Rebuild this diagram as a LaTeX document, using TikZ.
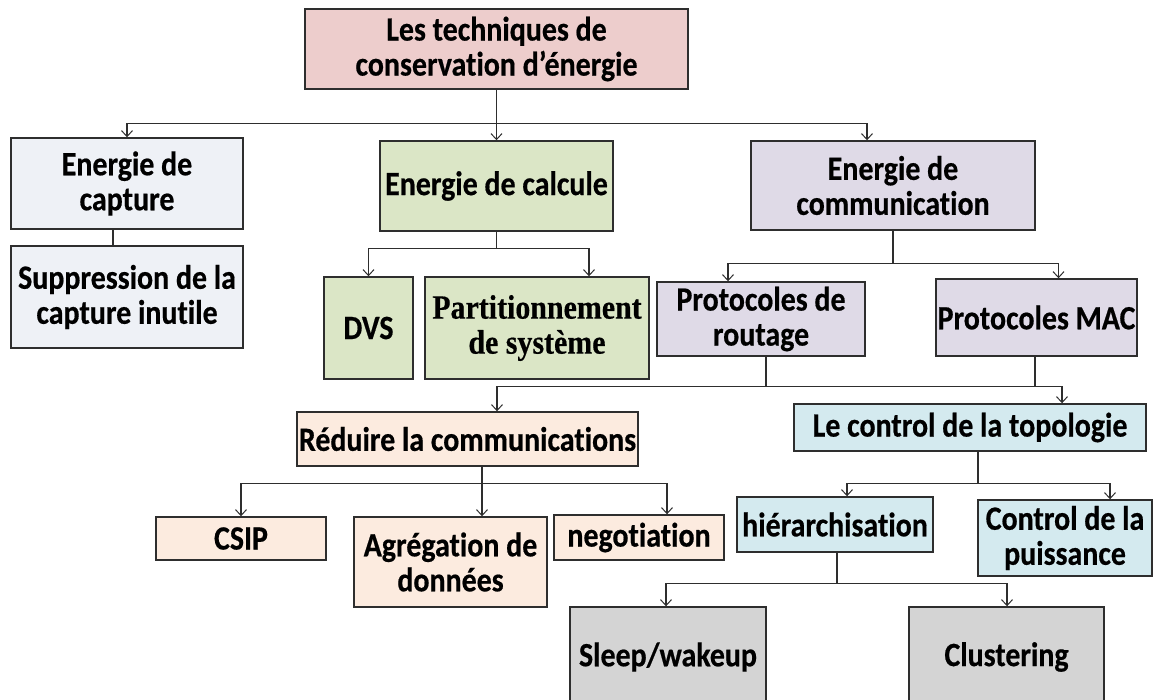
\documentclass[tikz,border=0pt]{standalone}
\usepackage{fontspec}
\setmainfont{Carlito}[Ligatures=NoCommon, FakeStretch=0.88,
  BoldFeatures={FakeBold=0.5, FakeStretch=0.88}]
\newfontfamily\serifbold{Liberation Serif}[FakeStretch=0.88,
  BoldFeatures={FakeBold=0.4, FakeStretch=0.88}]
\usetikzlibrary{arrows.meta,calc}

\definecolor{cPink}{HTML}{EDCDCC}
\definecolor{cCapt}{HTML}{EEF1F6}
\definecolor{cGreen}{HTML}{DBE6C6}
\definecolor{cPurple}{HTML}{DFDAE7}
\definecolor{cPeach}{HTML}{FCEBDF}
\definecolor{cBlue}{HTML}{D4EAEF}
\definecolor{cGrey}{HTML}{D4D4D4}
\definecolor{cEdge}{HTML}{2E2E2E}

\tikzset{
  box/.style={draw=cEdge, line width=1.4pt, inner sep=0pt, align=center,
    font=\fontsize{34}{35}\selectfont\bfseries},
  link/.style={draw=cEdge, line width=1.1pt},
  arr/.style={link, -{Straight Barb[length=6pt,width=11pt,line width=1pt]}},
}

\begin{document}
\begin{tikzpicture}[x=1pt,y=-1pt]
\useasboundingbox (0,0) rectangle (1153,699);
\clip (0,0) rectangle (1153,699);

% --- boxes -------------------------------------------------------------
\node[box, fill=cPink, minimum width=383, minimum height=80] (top) at (496.5,49)
  {Les techniques de\\conservation d’énergie};

\node[box, fill=cCapt, minimum width=232, minimum height=91] (cap) at (127,183.5)
  {Energie de\\capture};
\node[box, fill=cCapt, minimum width=232, minimum height=102] (sup) at (127,297)
  {Suppression de la\\capture inutile};

\node[box, fill=cGreen, minimum width=233, minimum height=90] (calc) at (496.5,186)
  {Energie de calcule};
\node[box, fill=cGreen, minimum width=89, minimum height=102] (dvs) at (368.5,328)
  {DVS};
\node[box, fill=cGreen, minimum width=224, minimum height=102,
      font=\fontsize{34}{35}\serifbold\bfseries] (part) at (537,328)
  {Partitionnement\\de système};

\node[box, fill=cPurple, minimum width=284, minimum height=89] (comm) at (893,185.5)
  {Energie de\\communication};
\node[box, fill=cPurple, minimum width=208, minimum height=74] (rout) at (761,319)
  {Protocoles de\\routage};
\node[box, fill=cPurple, minimum width=201, minimum height=77] (mac) at (1036.5,317.5)
  {Protocoles MAC};

\node[box, fill=cPeach, minimum width=341, minimum height=54] (red) at (467.5,439)
  {Réduire la communications};
\node[box, fill=cPeach, minimum width=170, minimum height=43] (csip) at (241,538.5)
  {CSIP};
\node[box, fill=cPeach, minimum width=193, minimum height=90] (agr) at (450.5,562)
  {Agrégation de\\données};
\node[box, fill=cPeach, minimum width=170, minimum height=45] (neg) at (639,537.5)
  {negotiation};

\node[box, fill=cBlue, minimum width=352, minimum height=47] (topo) at (970,427.5)
  {Le control de la topologie};
\node[box, fill=cBlue, minimum width=196, minimum height=55] (hier) at (835,524.5)
  {hiérarchisation};
\node[box, fill=cBlue, minimum width=174, minimum height=76] (puis) at (1065,538)
  {Control de la\\puissance};

\node[box, fill=cGrey, minimum width=196, minimum height=100] (sleep) at (668,657)
  {Sleep/wakeup};
\node[box, fill=cGrey, minimum width=195, minimum height=100] (clus) at (1006.5,657)
  {Clustering};

% --- connectors --------------------------------------------------------
% root to the three energy families
\coordinate (j1) at ($(top.south)+(0,34)$);
\draw[link] (top.south) -- (j1);
\draw[arr] (j1) -| (cap.north);
\draw[arr] (j1) -- (calc.north);
\draw[arr] (j1) -| ($(comm.north)+(-26,0)$);

% capture
\draw[link] ($(cap.south)+(-14,0)$) -- ($(sup.north)+(-14,0)$);

% computation
\coordinate (j2) at ($(calc.south)+(0,17)$);
\draw[link] (calc.south) -- (j2);
\draw[arr] (j2) -| (dvs.north);
\draw[arr] (j2) -| ($(part.north)+(52,0)$);

% communication
\coordinate (j3) at ($(comm.south)+(0,33)$);
\draw[link] (comm.south) -- (j3);
\draw[arr] (j3) -| ($(rout.north)+(-33,0)$);
\draw[arr] (j3) -| ($(mac.north)+(22,0)$);

% routing and MAC protocols share one bus
\coordinate (r1) at ($(rout.south)+(5,0)$);
\coordinate (m1) at ($(mac.south)+(-1.5,0)$);
\coordinate (busL) at ($(red.north)+(29.5,-25)$);
\coordinate (busR) at ($(topo.north)+(92,-17)$);
\draw[link] (r1) -- (r1 |- busL);
\draw[link] (m1) -- (m1 |- busL);
\draw[link] (busL) -- (busR);
\draw[arr] (busL) -- ($(red.north)+(29.5,0)$);
\draw[arr] (busR) -- ($(topo.north)+(92,0)$);

% reducing communications
\coordinate (j4) at ($(red.south)+(14.5,17)$);
\draw[link] ($(red.south)+(14.5,0)$) -- (j4);
\draw[arr] (j4) -| (csip.north);
\draw[arr] (j4) -- ($(agr.north)+(31.5,0)$);
\draw[arr] (j4) -| ($(neg.north)+(28,0)$);

% topology control
\coordinate (j5) at ($(topo.south)+(8,32)$);
\draw[link] ($(topo.south)+(8,0)$) -- (j5);
\draw[arr] (j5) -| ($(hier.north)+(12,0)$);
\draw[arr] (j5) -| ($(puis.north)+(45,0)$);

% hierarchy
\coordinate (j6) at ($(hier.south)+(2,31)$);
\draw[link] ($(hier.south)+(2,0)$) -- (j6);
\draw[arr] (j6) -| ($(sleep.north)+(-2,0)$);
\draw[arr] (j6) -| ($(clus.north)+(0.5,0)$);
\end{tikzpicture}
\end{document}
